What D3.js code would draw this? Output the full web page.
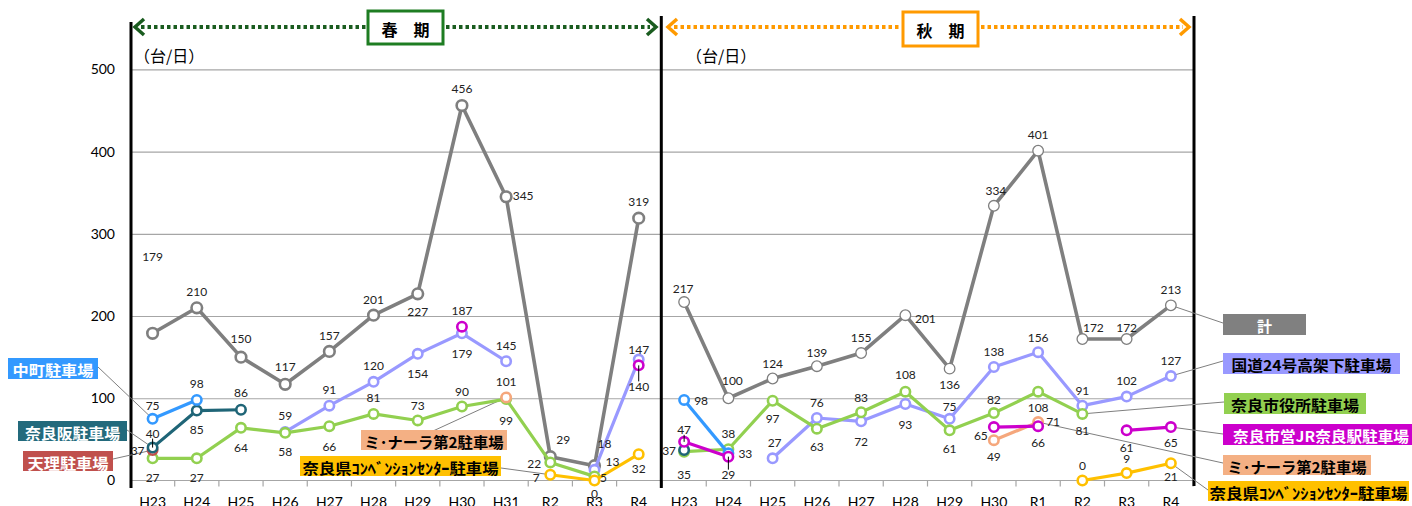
<!DOCTYPE html>
<html>
<head>
<meta charset="utf-8">
<script src="https://cdn.jsdelivr.net/npm/d3@7"></script>
<style>
  html, body { margin: 0; padding: 0; background: #fff; }
  svg { display: block; }
</style>
</head>
<body>
<svg id="chart" width="1412" height="506"></svg>
<script>
// ---- categories and ticks ----
const springCategories = ['H23','H24','H25','H26','H27','H28','H29','H30','H31','R2','R3','R4'];
const autumnCategories = ['H23','H24','H25','H26','H27','H28','H29','H30','R1','R2','R3','R4'];
const yTickValues = [0, 100, 200, 300, 400, 500];

// ---- spring (台/日) ----
const springTotal       = [179, 210, 150, 117, 157, 201, 227, 456, 345, 29, 18, 319];
const springKokudo      = [null, null, null, 59, 91, 120, 154, 179, 145, null, 13, 147];
const springShiyakusho  = [27, 27, 64, 58, 66, 81, 73, 90, 99, 22, 5, null];
const springNakamachi   = [75, 98, null, null, null, null, null, null, null, null, null, null];
const springNarazaka    = [40, 85, 86, null, null, null, null, null, null, null, null, null];
const springTenri       = [37, null, null, null, null, null, null, null, null, null, null, null];
const springJR          = [null, null, null, null, null, null, null, 187, null, null, null, 140];
const springMinara      = [null, null, null, null, null, null, null, null, 101, null, null, null];
const springConvention  = [null, null, null, null, null, null, null, null, null, 7, 0, 32];

// ---- autumn (台/日) ----
const autumnTotal       = [217, 100, 124, 139, 155, 201, 136, 334, 401, 172, 172, 213];
const autumnKokudo      = [null, null, 27, 76, 72, 93, 75, 138, 156, 91, 102, 127];
const autumnShiyakusho  = [35, 38, 97, 63, 83, 108, 61, 82, 108, 81, null, null];
const autumnNakamachi   = [98, 33, null, null, null, null, null, null, null, null, null, null];
const autumnNarazaka    = [37, null, null, null, null, null, null, null, null, null, null, null];
const autumnJR          = [47, 29, null, null, null, null, null, 65, 66, null, 61, 65];
const autumnMinara      = [null, null, null, null, null, null, null, 49, 71, null, null, null];
const autumnConvention  = [null, null, null, null, null, null, null, null, null, 0, 9, 21];

// ---- value-label offsets [dx, dy, leaderTick] for each defined point, in order ----
const springLabelOffsets = {
  total:      [[0,-77],[0,-16],[0,-19],[0,-18],[0,-16],[0,-16],[0,18],[0,-17],[17,-1],[13,-17],[10,-22],[0,-17]],
  kokudo:     [[0,-16],[0,-16],[0,-16],[0,20],[0,20],[0,-16],[18,-8],[0,-10]],
  shiyakusho: [[0,19],[0,19],[0,20],[0,19],[0,20],[0,-16],[0,-15],[0,-15],[0,21],[-16,1],[9,1]],
  nakamachi:  [[0,-13],[0,-16]],
  narazaka:   [[0,-14,1],[0,19],[0,-17]],
  tenri:      [[-15,0]],
  jr:         [[0,-16],[0,21,1]],
  minara:     [[0,-16]],
  convention: [[-14,3],[0,13],[0,14]]
};
const autumnLabelOffsets = {
  total:      [[-1,-14],[4,-18],[0,-15],[0,-14],[0,-16],[20,3],[0,16],[2,-15],[0,-16],[11,-12],[0,-12],[0,-16]],
  kokudo:     [[2,-16],[0,-15],[0,20],[0,20],[0,-12],[0,-16],[0,-15],[0,-15],[0,-16],[0,-16]],
  shiyakusho: [[0,23],[0,-16],[0,18],[0,18],[0,-15],[0,-17],[0,18],[0,-14],[0,16],[0,17]],
  nakamachi:  [[17,1],[17,0]],
  narazaka:   [[-15,0]],
  jr:         [[0,-12,1],[0,18,1],[-13,8],[0,16],[0,17],[0,15]],
  minara:     [[0,16],[15,-1]],
  convention: [[0,-15],[0,-15],[0,13]]
};

// ---- colours ----
const seriesColors = {
  total: '#7f7f7f', kokudo: '#9999ff', shiyakusho: '#92d050', nakamachi: '#3399ff',
  narazaka: '#1f6577', tenri: '#c0504d', jr: '#cc00cc', minara: '#f5a77c', convention: '#ffc000'
};

const numFont = 'Lato, "Liberation Sans", sans-serif';
const jpFont = '"Noto Sans CJK JP", "Noto Sans", sans-serif';

const svg = d3.select('#chart');

// ---- scales ----
const y = d3.scaleLinear().domain([0, 500]).range([480.5, 69.3]);
const xSpring = d3.scaleBand().domain(springCategories).range([130.5, 660.8]);
const xAutumn = d3.scaleBand().domain(autumnCategories).range([662, 1193]);
const cx = (xs, c) => xs(c) + xs.bandwidth() / 2;
const plotLeft = 131, plotRight = 1193;

// ---- gridlines ----
svg.append('g')
  .attr('transform', `translate(${plotLeft},0)`)
  .call(d3.axisLeft(y).tickValues(yTickValues.filter(v => v > 0)).tickSize(-(plotRight - plotLeft)).tickFormat(''))
  .call(g => g.select('.domain').remove())
  .call(g => g.selectAll('line').attr('stroke', '#a6a6a6').attr('stroke-width', 1.2));

// ---- y tick labels ----
svg.append('g')
  .attr('transform', `translate(${plotLeft},0)`)
  .call(d3.axisLeft(y).tickValues(yTickValues).tickSize(0).tickPadding(16))
  .call(g => g.select('.domain').remove())
  .call(g => g.selectAll('text').attr('font-family', numFont).attr('font-size', 14).attr('fill', '#000'));

// ---- baseline with category ticks, and x labels ----
svg.append('line')
  .attr('x1', plotLeft).attr('x2', plotRight).attr('y1', y(0)).attr('y2', y(0))
  .attr('stroke', '#a6a6a6').attr('stroke-width', 1.2);

function drawXAxis(xs, cats) {
  const edges = cats.map(c => xs(c)).concat([xs(cats[cats.length - 1]) + xs.bandwidth()]);
  svg.append('g').selectAll('line').data(edges).join('line')
    .attr('x1', d => d).attr('x2', d => d).attr('y1', y(0)).attr('y2', y(0) + 6)
    .attr('stroke', '#a6a6a6').attr('stroke-width', 1.2);
  svg.append('g')
    .attr('transform', `translate(0,${y(0)})`)
    .call(d3.axisBottom(xs).tickSize(0).tickPadding(16.5))
    .call(g => g.select('.domain').remove())
    .call(g => g.selectAll('text').attr('font-family', numFont).attr('font-size', 14).attr('fill', '#000'));
}
drawXAxis(xSpring, springCategories);
drawXAxis(xAutumn, autumnCategories);

// ---- panel frame lines ----
[[131, 22, 488], [661.3, 16, 488], [1194, 16, 486]].forEach(([x, y1, y2]) => {
  svg.append('line').attr('x1', x).attr('x2', x).attr('y1', y1).attr('y2', y2)
    .attr('stroke', '#000').attr('stroke-width', 3);
});

// ---- period headers ----
function drawPeriod(x0, x1, boxX0, boxX1, boxY0, boxY1, arrowColor, boxColor, label) {
  const ay = 27;
  const g = svg.append('g');
  g.append('line').attr('x1', x0 + 8).attr('x2', boxX0 - 2).attr('y1', ay).attr('y2', ay)
    .attr('stroke', arrowColor).attr('stroke-width', 4).attr('stroke-dasharray', '3.5 3');
  g.append('line').attr('x1', boxX1 + 3).attr('x2', x1 - 8).attr('y1', ay).attr('y2', ay)
    .attr('stroke', arrowColor).attr('stroke-width', 4).attr('stroke-dasharray', '3.5 3');
  g.append('path').attr('d', `M${x0 + 11},${ay - 8}L${x0 + 2},${ay}L${x0 + 11},${ay + 8}`)
    .attr('fill', 'none').attr('stroke', arrowColor).attr('stroke-width', 3.5);
  g.append('path').attr('d', `M${x1 - 11},${ay - 8}L${x1 - 2},${ay}L${x1 - 11},${ay + 8}`)
    .attr('fill', 'none').attr('stroke', arrowColor).attr('stroke-width', 3.5);
  g.append('rect').attr('x', boxX0).attr('y', boxY0).attr('width', boxX1 - boxX0).attr('height', boxY1 - boxY0)
    .attr('fill', '#fff').attr('stroke', boxColor).attr('stroke-width', 3);
  g.append('text').attr('x', (boxX0 + boxX1) / 2).attr('y', (boxY0 + boxY1) / 2 + 1)
    .attr('text-anchor', 'middle').attr('dominant-baseline', 'central')
    .attr('font-family', jpFont).attr('font-size', 16).attr('font-weight', 'bold').attr('fill', '#000')
    .text(label);
}
drawPeriod(133, 658, 368, 443, 11, 44, '#1a5c1f', '#1e7d22', '春　期');
drawPeriod(666, 1191, 903, 978, 12, 46, '#ff9a00', '#ff9a00', '秋　期');

// ---- unit labels ----
[[134, '（台/日）'], [686, '（台/日）']].forEach(([x, t]) => {
  svg.append('text').attr('x', x).attr('y', 55).attr('dominant-baseline', 'central')
    .attr('font-family', jpFont).attr('font-size', 16).attr('fill', '#000').text(t);
});

// ---- series per panel ----
const springSeries = [
  ['total', springTotal], ['kokudo', springKokudo], ['shiyakusho', springShiyakusho],
  ['tenri', springTenri], ['narazaka', springNarazaka], ['nakamachi', springNakamachi],
  ['minara', springMinara], ['jr', springJR], ['convention', springConvention]
];
const autumnSeries = [
  ['total', autumnTotal], ['kokudo', autumnKokudo], ['shiyakusho', autumnShiyakusho],
  ['narazaka', autumnNarazaka], ['nakamachi', autumnNakamachi],
  ['minara', autumnMinara], ['jr', autumnJR], ['convention', autumnConvention]
];

// ---- legend boxes with leader lines to their series ----
const legendItems = [
  { name: '中町駐車場',     x: 8,    y: 358, w: 90,  h: 21, fill: '#3399ff', ink: '#fff', tw: 81,  lx: 98,   ly: 367, xs: xSpring, cat: 'H23', values: springNakamachi, cats: springCategories },
  { name: '奈良阪駐車場',   x: 18,   y: 421, w: 109, h: 20, fill: '#236a7c', ink: '#fff', tw: 95,  lx: 127,  ly: 430, xs: xSpring, cat: 'H23', values: springNarazaka, cats: springCategories },
  { name: '天理駐車場',     x: 23,   y: 451, w: 90,  h: 20, fill: '#c0504d', ink: '#fff', tw: 81,  lx: 113,  ly: 459, xs: xSpring, cat: 'H23', values: springTenri, cats: springCategories },
  { name: 'ミ･ナーラ第2駐車場', x: 361, y: 430, w: 146, h: 20, fill: '#f4b084', ink: '#000', tw: 139, lx: 433, ly: 431, xs: xSpring, cat: 'H31', values: springMinara, cats: springCategories },
  { name: '奈良県ｺﾝﾍﾞﾝｼｮﾝｾﾝﾀｰ駐車場', x: 300, y: 456, w: 201, h: 20, fill: '#ffc000', ink: '#000', tw: 196, lx: 501, ly: 468, xs: xSpring, cat: 'R2', values: springConvention, cats: springCategories },
  { name: '計',             x: 1223, y: 314, w: 83,  h: 21, fill: '#808080', ink: '#fff', tw: 0,   lx: 1223, ly: 323, xs: xAutumn, cat: 'R4', values: autumnTotal, cats: autumnCategories },
  { name: '国道24号高架下駐車場', x: 1223, y: 353, w: 177, h: 21, fill: '#9999ff', ink: '#000', tw: 160, lx: 1223, ly: 361, xs: xAutumn, cat: 'R4', values: autumnKokudo, cats: autumnCategories },
  { name: '奈良市役所駐車場', x: 1224, y: 393, w: 142, h: 21, fill: '#92d050', ink: '#000', tw: 128, lx: 1224, ly: 402, xs: xAutumn, cat: 'R2', values: autumnShiyakusho, cats: autumnCategories },
  { name: '奈良市営JR奈良駅駐車場', x: 1223, y: 424, w: 200, h: 21, fill: '#cc00cc', ink: '#fff', tw: 176, lx: 1223, ly: 434, xs: xAutumn, cat: 'R4', values: autumnJR, cats: autumnCategories, start: true },
  { name: 'ミ･ナーラ第2駐車場', x: 1223, y: 455, w: 148, h: 20, fill: '#f4b084', ink: '#000', tw: 139, lx: 1223, ly: 463, xs: xAutumn, cat: 'R1', values: autumnMinara, cats: autumnCategories },
  { name: '奈良県ｺﾝﾍﾞﾝｼｮﾝｾﾝﾀｰ駐車場', x: 1208, y: 481, w: 201, h: 20, fill: '#ffc000', ink: '#000', tw: 198, lx: 1208, ly: 490, xs: xAutumn, cat: 'R4', values: autumnConvention, cats: autumnCategories }
];

const leaderG = svg.append('g');
legendItems.forEach(d => {
  const v = d.values[d.cats.indexOf(d.cat)];
  leaderG.append('line')
    .attr('x1', d.lx).attr('y1', d.ly).attr('x2', cx(d.xs, d.cat)).attr('y2', y(v))
    .attr('stroke', '#7f7f7f').attr('stroke-width', 1);
});

// ---- lines, markers and value labels ----
function drawPanel(xs, cats, seriesList, offsets, totalMarkerStroke) {
  const g = svg.append('g');
  seriesList.forEach(([key, values]) => {
    const color = seriesColors[key];
    const pts = values.map((v, i) => ({ c: cats[i], v })).filter(p => p.v != null);
    const line = d3.line().defined(p => p.v != null)
      .x(p => cx(xs, p.c)).y(p => y(p.v));
    const all = values.map((v, i) => ({ c: cats[i], v }));
    g.append('path').datum(all).attr('d', line)
      .attr('fill', 'none').attr('stroke', color)
      .attr('stroke-width', key === 'total' ? 3.6 : 3.2).attr('stroke-linejoin', 'round');
    const isTotal = key === 'total';
    g.append('g').selectAll('circle').data(pts).join('circle')
      .attr('cx', p => cx(xs, p.c)).attr('cy', p => y(p.v))
      .attr('r', isTotal ? 5.3 : 4.7)
      .attr('fill', '#fff').attr('stroke', color)
      .attr('stroke-width', isTotal ? totalMarkerStroke : 2.6);
  });
  // labels on top of all marks
  const lg = svg.append('g');
  seriesList.forEach(([key, values]) => {
    const pts = values.map((v, i) => ({ c: cats[i], v })).filter(p => p.v != null);
    const offs = offsets[key];
    pts.forEach((p, i) => {
      const [dx, dy, tick] = offs[i];
      const px = cx(xs, p.c), py = y(p.v);
      if (tick) {
        const s = Math.sign(dy);
        lg.append('line').attr('x1', px).attr('x2', px)
          .attr('y1', py).attr('y2', py + dy - s * 5)
          .attr('stroke', '#000').attr('stroke-width', 1);
      }
      lg.append('text').attr('x', px + dx).attr('y', py + dy)
        .attr('text-anchor', 'middle').attr('dominant-baseline', 'central')
        .attr('font-family', numFont).attr('font-size', 12).attr('fill', '#222')
        .text(p.v);
    });
  });
}
drawPanel(xSpring, springCategories, springSeries, springLabelOffsets, 2.6);
drawPanel(xAutumn, autumnCategories, autumnSeries, autumnLabelOffsets, 1.3);

// ---- legend boxes ----
const legendG = svg.append('g');
legendItems.forEach(d => {
  legendG.append('rect').attr('x', d.x).attr('y', d.y).attr('width', d.w).attr('height', d.h).attr('fill', d.fill);
  const t = legendG.append('text')
    .attr('y', d.y + d.h / 2 + 1).attr('dominant-baseline', 'central')
    .attr('font-family', jpFont).attr('font-size', 15).attr('font-weight', 'bold')
    .attr('fill', d.ink).text(d.name);
  if (d.start) {
    t.attr('x', d.x + 10).attr('text-anchor', 'start');
  } else {
    t.attr('x', d.x + d.w / 2).attr('text-anchor', 'middle');
  }
  if (d.tw) t.attr('textLength', d.tw).attr('lengthAdjust', 'spacingAndGlyphs');
});
</script>
</body>
</html>
